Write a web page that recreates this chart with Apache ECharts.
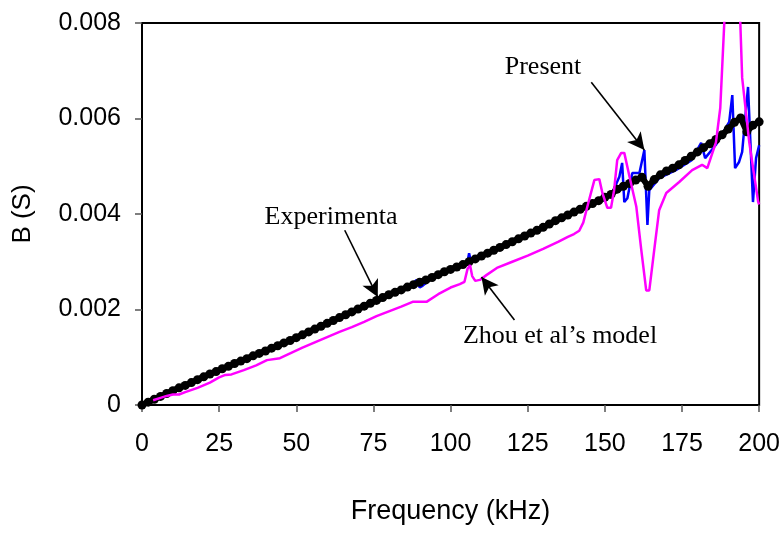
<!DOCTYPE html>
<html>
<head>
<meta charset="utf-8">
<script src="https://cdn.jsdelivr.net/npm/echarts@6/dist/echarts.min.js"></script>
<style>
  html, body { margin: 0; padding: 0; background: #fff; }
  #chart { width: 783px; height: 533px; }
</style>
</head>
<body>
<div id="chart"></div>
<script>
// Susceptance B (S) versus frequency (kHz)

// Experimental measurement
const freqExp = [0, 2, 4, 6, 8, 10, 12, 14, 16, 18, 20, 22, 24, 26, 28, 30, 32, 34, 36, 38,
  40, 42, 44, 46, 48, 50, 52, 54, 56, 58, 60, 62, 64, 66, 68, 70, 72, 74, 76, 78,
  80, 82, 84, 86, 88, 90, 92, 94, 96, 98, 100, 102, 104, 106, 108, 110, 112, 114, 116, 118,
  120, 122, 124, 126, 128, 130, 132, 134, 136, 138, 140, 142, 144, 146, 148, 150, 152, 154, 156, 158,
  160, 162, 164, 166, 168, 170, 172, 174, 176, 178, 180, 182, 184, 186, 188, 190, 192, 194, 196, 198, 200];
const bExp = [0.00000, 0.00006, 0.00012, 0.00018, 0.00024, 0.00030, 0.00036, 0.00041, 0.00047, 0.00053,
  0.00059, 0.00065, 0.00070, 0.00076, 0.00081, 0.00087, 0.00092, 0.00097, 0.00103, 0.00108,
  0.00113, 0.00119, 0.00124, 0.00130, 0.00135, 0.00141, 0.00147, 0.00153, 0.00159, 0.00165,
  0.00171, 0.00177, 0.00183, 0.00189, 0.00195, 0.00201, 0.00207, 0.00213, 0.00219, 0.00225,
  0.00231, 0.00236, 0.00241, 0.00247, 0.00252, 0.00257, 0.00262, 0.00267, 0.00273, 0.00279,
  0.00284, 0.00289, 0.00294, 0.00300, 0.00306, 0.00312, 0.00318, 0.00324, 0.00330, 0.00336,
  0.00342, 0.00348, 0.00354, 0.00360, 0.00366, 0.00372, 0.00379, 0.00386, 0.00392, 0.00398,
  0.00404, 0.00410, 0.00416, 0.00422, 0.00428, 0.00435, 0.00441, 0.00452, 0.00458, 0.00464,
  0.00471, 0.00477, 0.00458, 0.00472, 0.00482, 0.00490, 0.00496, 0.00503, 0.00512, 0.00521,
  0.00530, 0.00539, 0.00547, 0.00556, 0.00566, 0.00578, 0.00592, 0.00601, 0.00572, 0.00586, 0.00593];

// Present model
const freqPresent = [0, 10, 20, 30, 40, 50, 60, 70, 80, 86, 88, 89, 90, 91, 94, 100, 104, 105.5, 106, 106.6,
  110, 120, 130, 136, 140, 144, 148, 152, 154.7, 155.6, 156.3, 157.3, 158.9, 161.2, 162.8, 163.8, 164.4, 167.6,
  173, 178, 181.2, 182.5, 186, 190.3, 191.3, 192.2, 193.5, 194.5, 196.4, 198, 199, 200];
const bPresent = [0.00000, 0.00030, 0.00059, 0.00087, 0.00113, 0.00141, 0.00171, 0.00201, 0.00231, 0.00248,
  0.00256, 0.00262, 0.00246, 0.00250, 0.00266, 0.00284, 0.00294, 0.00300, 0.00318, 0.00300,
  0.00311, 0.00341, 0.00371, 0.00389, 0.00402, 0.00413, 0.00424, 0.00438, 0.00478, 0.00507,
  0.00425, 0.00433, 0.00486, 0.00486, 0.00534, 0.00377, 0.00450, 0.00475,
  0.00492, 0.00512, 0.00549, 0.00517, 0.00545, 0.00593, 0.00649, 0.00496, 0.00509, 0.00530,
  0.00666, 0.00425, 0.00517, 0.00544];

// Zhou et al's model
const freqZhou = [3.6, 6, 8, 10, 12, 14, 18, 22, 25, 27, 29, 33, 37, 40.5, 44.7, 48, 52, 56, 60, 64,
  68, 72, 76, 80, 84, 87.7, 92.2, 96, 100, 103, 104.5, 105.5, 106.3, 107, 108, 109.5, 111.6, 115, 120, 125,
  130, 135, 138, 140, 141.7, 143, 144.5, 146.6, 148.2, 149.2, 150.8, 152, 153, 154, 155.3, 156.3, 158, 160.2,
  161.8, 163.4, 164.4, 166, 167.6, 169.9, 174.1, 178.3, 181.5, 183.2, 186, 187.4, 188.7, 189.5, 191, 192.5,
  193.9, 194.5, 196.8, 199.7, 200];
const bZhou = [0.00010, 0.00015, 0.00019, 0.00022, 0.00022, 0.00027, 0.00036, 0.00047, 0.00058, 0.00063,
  0.00064, 0.00073, 0.00083, 0.00094, 0.00098, 0.00108, 0.00120, 0.00131, 0.00142, 0.00153,
  0.00163, 0.00174, 0.00186, 0.00196, 0.00206, 0.00216, 0.00216, 0.00232, 0.00246, 0.00253,
  0.00258, 0.00285, 0.00293, 0.00270, 0.00260, 0.00262, 0.00272, 0.00287, 0.00300, 0.00313,
  0.00327, 0.00342, 0.00352, 0.00358, 0.00365, 0.00382, 0.00420, 0.00471, 0.00473, 0.00444,
  0.00413, 0.00413, 0.00450, 0.00513, 0.00528, 0.00528, 0.00478, 0.00415,
  0.00325, 0.00240, 0.00240, 0.00325, 0.00408, 0.00444, 0.00467, 0.00492, 0.00503, 0.00496,
  0.00550, 0.00622, 0.00800, 0.00880, 0.00940, 0.00920,
  0.00800, 0.00685, 0.00550, 0.00425, 0.00420];

// Axis ticks
const xTicks = [0, 25, 50, 75, 100, 125, 150, 175, 200];
const yTicks = [0, 0.002, 0.004, 0.006, 0.008];

// Annotation arrows: [tail, head] in (kHz, S)
const arrowExperimental = [[65.7, 0.00366], [76.4, 0.00226]];
const arrowPresent = [[145.6, 0.00676], [162.8, 0.00534]];
const arrowZhou = [[120.7, 0.00178], [110.0, 0.00268]];

const pair = (xs, ys) => xs.map((x, i) => [x, ys[i]]);

const chart = echarts.init(document.getElementById('chart'), null, { renderer: 'canvas' });

const axisFont = { fontFamily: 'Liberation Sans, Arial, sans-serif', color: '#000' };
const noteFont = 'Liberation Serif, Times New Roman, serif';

chart.setOption({
  animation: false,
  backgroundColor: '#fff',
  grid: {
    left: 142, right: 23, top: 23, bottom: 128,
    show: true, borderColor: '#000', borderWidth: 2, backgroundColor: 'transparent'
  },
  xAxis: {
    type: 'value',
    min: xTicks[0], max: xTicks[xTicks.length - 1], interval: 25,
    name: 'Frequency (kHz)', nameLocation: 'middle', nameGap: 93,
    nameTextStyle: Object.assign({ fontSize: 27 }, axisFont),
    axisLine: { show: true, lineStyle: { color: '#000', width: 2 } },
    axisTick: { show: true, inside: false, length: 7, lineStyle: { color: '#555', width: 1.5 } },
    axisLabel: Object.assign({ fontSize: 25, margin: 27 }, axisFont),
    splitLine: { show: false }
  },
  yAxis: {
    type: 'value',
    min: yTicks[0], max: yTicks[yTicks.length - 1], interval: 0.002,
    name: 'B (S)', nameLocation: 'middle', nameGap: 106, nameRotate: 90,
    nameTextStyle: Object.assign({ fontSize: 26 }, axisFont),
    axisLine: { show: true, lineStyle: { color: '#000', width: 2 } },
    axisTick: { show: true, inside: false, length: 7, lineStyle: { color: '#555', width: 1.5 } },
    axisLabel: Object.assign({
      fontSize: 25, margin: 21,
      formatter: v => (v === 0 ? '0' : v.toFixed(3))
    }, axisFont),
    splitLine: { show: false }
  },
  series: [
    {
      name: 'Present',
      type: 'line',
      data: pair(freqPresent, bPresent),
      showSymbol: false,
      symbol: 'none',
      lineStyle: { color: '#0000FF', width: 2.5 },
      z: 2
    },
    {
      name: 'Experimental',
      type: 'line',
      data: pair(freqExp, bExp),
      symbol: 'circle',
      symbolSize: 9,
      itemStyle: { color: '#000' },
      lineStyle: { color: '#000', width: 6 },
      z: 3,
      markLine: {
        silent: true,
        symbol: ['none', 'arrow'],
        symbolSize: [13, 17],
        lineStyle: { color: '#000', width: 1.6, type: 'solid' },
        label: { show: false },
        data: [arrowExperimental, arrowPresent, arrowZhou].map(a => [
          { coord: a[0] }, { coord: a[1] }
        ])
      }
    },
    {
      name: "Zhou et al's model",
      type: 'line',
      data: pair(freqZhou, bZhou),
      showSymbol: false,
      symbol: 'none',
      lineStyle: { color: '#FF00FF', width: 2.5 },
      z: 4
    }
  ],
  graphic: [
    { type: 'text', x: 331, y: 217, style: { text: 'Experimenta', font: '26px ' + noteFont, fill: '#000', textAlign: 'center', textVerticalAlign: 'middle' } },
    { type: 'text', x: 543, y: 67, style: { text: 'Present', font: '26px ' + noteFont, fill: '#000', textAlign: 'center', textVerticalAlign: 'middle' } },
    { type: 'text', x: 560, y: 336, style: { text: 'Zhou et al\u2019s model', font: '26px ' + noteFont, fill: '#000', textAlign: 'center', textVerticalAlign: 'middle' } }
  ]
});
</script>
</body>
</html>
